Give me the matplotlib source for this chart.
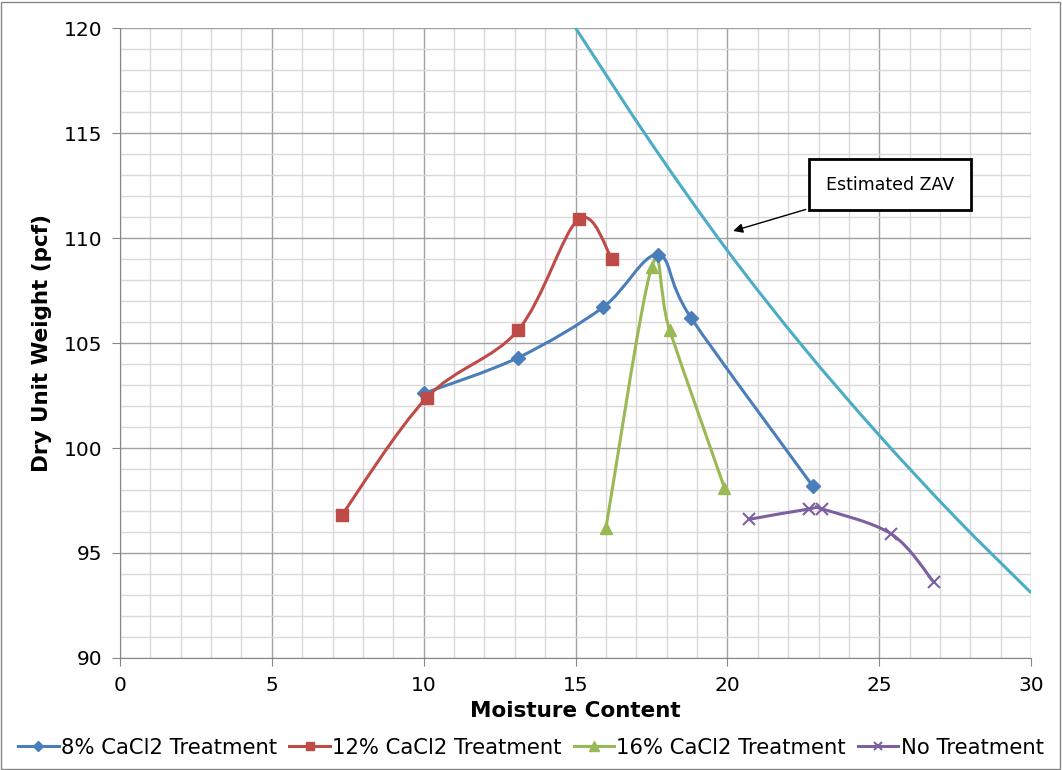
import matplotlib
matplotlib.use("Agg")
import matplotlib.pyplot as plt
import numpy as np
from matplotlib.path import Path
from matplotlib.patches import PathPatch, Rectangle
from matplotlib.lines import Line2D

# datos
w_8 = [10.0, 13.1, 15.9, 17.7, 18.8, 22.8]
g_8 = [102.6, 104.3, 106.7, 109.2, 106.2, 98.2]

w_12 = [7.3, 10.1, 13.1, 15.1, 16.2]
g_12 = [96.8, 102.4, 105.6, 110.9, 109.0]

w_16 = [16.0, 17.5, 18.1, 19.9]
g_16 = [96.2, 108.6, 105.6, 98.1]

w_no = [20.7, 22.7, 23.1, 25.4, 26.8]
g_no = [96.6, 97.1, 97.1, 95.9, 93.6]

w_zav = [15.0, 17.5, 20.0, 22.5, 25.0, 27.5, 30.0]
g_zav = [120.0, 114.5, 109.4, 104.8, 100.6, 96.7, 93.1]

series = [
    ("8% CaCl2 Treatment", w_8, g_8, "#4A7EBB", "D", 7),
    ("12% CaCl2 Treatment", w_12, g_12, "#BE4B48", "s", 8),
    ("16% CaCl2 Treatment", w_16, g_16, "#98B954", "^", 9),
    ("No Treatment", w_no, g_no, "#7D60A0", "x", 8),
]


def curva_suave(xs, ys):
    # linea suavizada tipo Excel (bezier entre puntos)
    p = np.column_stack([xs, ys])
    n = len(p)
    verts = [p[0]]
    codes = [Path.MOVETO]
    for i in range(n - 1):
        p0 = p[i - 1] if i > 0 else p[i]
        p1 = p[i]
        p2 = p[i + 1]
        p3 = p[i + 2] if i + 2 < n else p[i + 1]
        c1 = p1 + (p2 - p0) / 6.0
        c2 = p2 - (p3 - p1) / 6.0
        verts += [c1, c2, p2]
        codes += [Path.CURVE4] * 3
    return Path(verts, codes)


fig = plt.figure(figsize=(10.62, 7.70), dpi=100)
ax = fig.add_axes([0.113, 0.1455, 0.858, 0.818])

ax.set_xlim(0, 30)
ax.set_ylim(90, 120)
ax.set_xticks(np.arange(0, 31, 5))
ax.set_yticks(np.arange(90, 121, 5))
ax.set_xticks(np.arange(0, 31, 1), minor=True)
ax.set_yticks(np.arange(90, 121, 1), minor=True)
ax.grid(which="major", color="#A0A0A0", linewidth=1.0)
ax.grid(which="minor", color="#D9D9D9", linewidth=1.0)
ax.set_axisbelow(True)
ax.tick_params(which="minor", length=0)
ax.tick_params(which="major", length=6, color="#868686", labelsize=14.5, pad=7)
for s in ["top", "right"]:
    ax.spines[s].set_visible(False)
for s in ["left", "bottom"]:
    ax.spines[s].set_color("#868686")

ax.add_patch(PathPatch(curva_suave(w_zav, g_zav), fill=False,
                       edgecolor="#4BACC6", linewidth=2.2, clip_on=True))

handles = []
for nombre, xs, ys, color, mk, ms in series:
    ax.add_patch(PathPatch(curva_suave(xs, ys), fill=False,
                           edgecolor=color, linewidth=2.2))
    mew = 1.5 if mk == "x" else 1
    ax.plot(xs, ys, linestyle="none", marker=mk, markersize=ms,
            color=color, markeredgewidth=mew)
    handles.append(Line2D([], [], color=color, linewidth=2.2, marker=mk,
                          markersize=ms * 0.8, markeredgewidth=mew,
                          label=nombre))

ax.annotate("Estimated ZAV", xy=(20.1, 110.3), xytext=(25.35, 112.55),
            ha="center", va="center", fontsize=12.5,
            bbox=dict(boxstyle="square,pad=0.95", fc="white", ec="black", lw=2),
            arrowprops=dict(arrowstyle="-|>", color="black", lw=1,
                            mutation_scale=14))

ax.set_xlabel("Moisture Content", fontsize=15.5, fontweight="bold", labelpad=4)
ax.set_ylabel("Dry Unit Weight (pcf)", fontsize=15.5, fontweight="bold", labelpad=8)

fig.legend(handles=handles, loc="center", bbox_to_anchor=(0.5, 0.029), ncol=4,
           frameon=False, fontsize=15.2, handlelength=1.9, handletextpad=0.1,
           columnspacing=0.6)

fig.add_artist(Rectangle((0.001, 0.001), 0.997, 0.997, transform=fig.transFigure,
                         fill=False, edgecolor="#868686", linewidth=1))

fig.savefig("out.png", dpi=100)
